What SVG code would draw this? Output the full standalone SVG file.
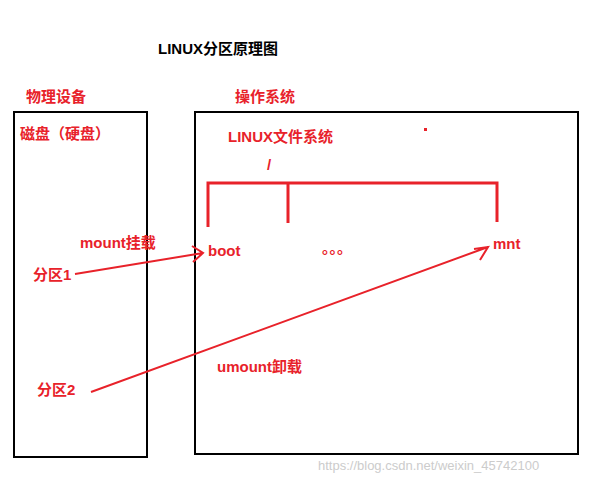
<svg xmlns="http://www.w3.org/2000/svg" width="600" height="483" viewBox="0 0 600 483">
<style>
.t{font-family:"Liberation Sans","Noto Sans CJK SC",sans-serif;font-weight:bold;font-size:15px;fill:#e8222a}
.k{fill:#000}
.box{fill:none;stroke:#000;stroke-width:2}
.r{stroke:#e8222a;stroke-width:3;fill:none}
.a{stroke:#e8222a;stroke-width:2;fill:none}
</style>
<rect width="600" height="483" fill="#fff"/>
<text class="t k" x="158" y="54">LINUX分区原理图</text>
<g id="disk"><rect class="box" x="14" y="112" width="133" height="345"/>
<text class="t" x="26" y="102">物理设备</text>
<text class="t" x="20" y="139">磁盘（硬盘）</text>
<text class="t" x="33" y="280">分区1</text>
<text class="t" x="37" y="395">分区2</text></g>
<g id="os"><rect class="box" x="195" y="112" width="383" height="342"/>
<text class="t" x="235" y="102">操作系统</text>
<text class="t" x="228" y="142">LINUX文件系统</text>
<text class="t" x="267" y="170">/</text>
<text class="t" x="208" y="256">boot</text>
<text class="t" x="493" y="249">mnt</text>
<text class="t" x="322" y="253">。。。</text>
<text class="t" x="217" y="372">umount卸载</text>
<text class="t" x="80" y="248">mount挂载</text>
<rect x="424" y="128" width="3" height="3" fill="#e8222a"/></g>
<g id="connectors">
<path class="r" d="M208,227V183H497V222M288,183V223"/>
<path class="a" d="M75,274L203,253M192,246L203,253L193,262"/>
<path class="a" d="M91,392L488,247M474,249L488,247L480,260"/>
</g>
<text x="318" y="470" font-family="Liberation Sans,sans-serif" font-size="13" fill="#ccc">https://blog.csdn.net/weixin_45742100</text>
</svg>
